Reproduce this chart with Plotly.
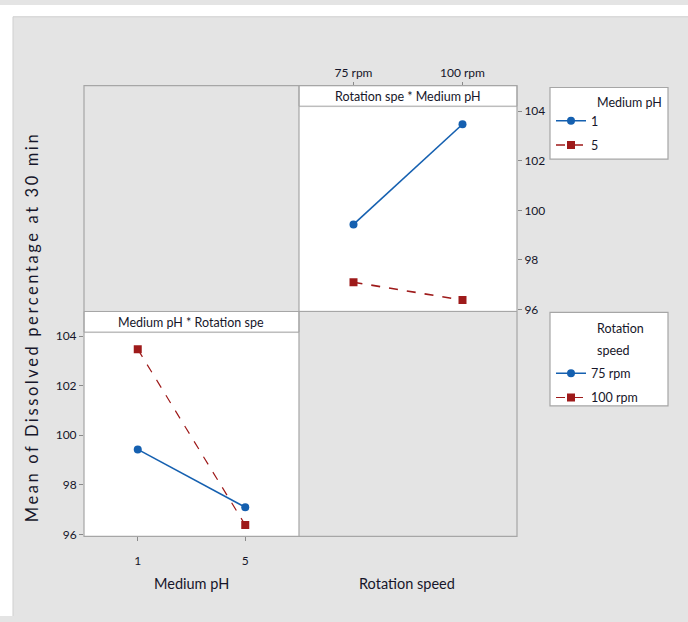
import plotly.graph_objects as go

W, H = 688, 622

# ---- data (cell means) ----
ph_levels = ["1", "5"]
rpm_levels = ["75 rpm", "100 rpm"]
# mean dissolved % at 30 min for each medium pH across rotation speeds
mean_ph1 = [99.43, 103.47]   # pH 1 at 75 rpm, 100 rpm
mean_ph5 = [97.10, 96.38]    # pH 5 at 75 rpm, 100 rpm
y_ticks = [96, 98, 100, 102, 104]

# derived series for the other panel (rotation speed lines across pH)
mean_75 = [mean_ph1[0], mean_ph5[0]]
mean_100 = [mean_ph1[1], mean_ph5[1]]

BLUE = "#1560b0"
RED = "#9e1a1a"
GRAY_BG = "#e4e4e4"
BORDER = "#a6a6a6"
FONT = "Lato, 'Open Sans', sans-serif"
TICKFONT = "Lato, sans-serif"
TXT = "#16162a"


def px(x):
    return x / W


def py(y):
    return 1 - y / H


fig = go.Figure()

# top-right panel: Rotation speed on x, lines by Medium pH
fig.add_trace(go.Scatter(x=rpm_levels, y=mean_ph1, name="1", mode="lines+markers",
                         line=dict(color=BLUE, width=1.6),
                         marker=dict(symbol="circle", size=8, color=BLUE),
                         xaxis="x", yaxis="y", legend="legend", legendgroup="a"))
fig.add_trace(go.Scatter(x=rpm_levels, y=mean_ph5, name="5", mode="lines+markers",
                         line=dict(color=RED, width=1.6, dash="dash"),
                         marker=dict(symbol="square", size=8, color=RED),
                         xaxis="x", yaxis="y", legend="legend", legendgroup="b"))
# bottom-left panel: Medium pH on x, lines by Rotation speed
fig.add_trace(go.Scatter(x=ph_levels, y=mean_75, name="75 rpm", mode="lines+markers",
                         line=dict(color=BLUE, width=1.6),
                         marker=dict(symbol="circle", size=8, color=BLUE),
                         xaxis="x2", yaxis="y2", legend="legend2", legendgroup="c"))
fig.add_trace(go.Scatter(x=ph_levels, y=mean_100, name="100 rpm", mode="lines+markers",
                         line=dict(color=RED, width=1.2, dash="dash"),
                         marker=dict(symbol="square", size=8, color=RED),
                         xaxis="x2", yaxis="y2", legend="legend2", legendgroup="d"))

tickfont = dict(family=TICKFONT, size=12, color=TXT)
axis_common = dict(showgrid=False, zeroline=False, showline=False, ticks="outside",
                   ticklen=4, tickcolor="#8a8a8a", tickfont=tickfont, fixedrange=True)

shapes = []
# white page margins (paper is gray)
shapes.append(dict(type="rect", xref="paper", yref="paper", x0=0, x1=1, y0=py(12), y1=1,
                   fillcolor="white", line=dict(width=0), layer="below"))
shapes.append(dict(type="rect", xref="paper", yref="paper", x0=0, x1=px(13), y0=0, y1=1,
                   fillcolor="white", line=dict(width=0), layer="below"))
shapes.append(dict(type="line", xref="paper", yref="paper", x0=px(13), x1=1, y0=py(12), y1=py(12),
                   line=dict(color="#cfcfcf", width=1)))
shapes.append(dict(type="line", xref="paper", yref="paper", x0=px(13), x1=px(13), y0=0, y1=py(12),
                   line=dict(color="#cfcfcf", width=1)))
# strips
for (x0, x1, y0, y1) in [(299, 517, 82, 103), (84, 299, 312, 333)]:
    shapes.append(dict(type="rect", xref="paper", yref="paper", x0=px(x0), x1=px(x1),
                       y0=py(y1), y1=py(y0), fillcolor="white",
                       line=dict(color=BORDER, width=1)))
# grid border and dividers
shapes.append(dict(type="rect", xref="paper", yref="paper", x0=px(84), x1=px(517),
                   y0=py(541), y1=py(82), line=dict(color=BORDER, width=1.2), layer="above"))
shapes.append(dict(type="line", xref="paper", yref="paper", x0=px(299), x1=px(299),
                   y0=py(541), y1=py(82), line=dict(color=BORDER, width=1.2), layer="above"))
shapes.append(dict(type="line", xref="paper", yref="paper", x0=px(84), x1=px(517),
                   y0=py(312), y1=py(312), line=dict(color=BORDER, width=1.2), layer="above"))
# legend boxes
for (x0, x1, y0, y1) in [(550, 668, 84, 157), (550, 668, 313, 408)]:
    shapes.append(dict(type="rect", xref="paper", yref="paper", x0=px(x0), x1=px(x1),
                       y0=py(y1), y1=py(y0), fillcolor="white",
                       line=dict(color=BORDER, width=1.2)))


def ann(text, x, y, size, xanchor="center", yanchor="middle", **kw):
    return dict(text=text, x=px(x), y=py(y), xref="paper", yref="paper",
                xanchor=xanchor, yanchor=yanchor, showarrow=False,
                font=dict(family=FONT, size=size, color=TXT), **kw)


annotations = [
    ann("Rotation spe * Medium pH", 408, 93, 12.5),
    ann("Medium pH * Rotation spe", 191, 323, 12.5),
    ann("Medium pH", 191, 589, 14.5),
    ann("Rotation speed", 407, 589, 14.5),
    ann('<span style="letter-spacing:2.6px">Mean of Dissolved percentage at 30 min</span>',
        32, 328, 16.5, textangle=-90),
    ann("Medium pH", 595, 99, 12.5, xanchor="left"),
    ann("Rotation", 595, 329, 12.5, xanchor="left"),
    ann("speed", 595, 352, 12.5, xanchor="left"),
]

fig.update_layout(
    width=W, height=H, margin=dict(l=0, r=0, t=0, b=0),
    paper_bgcolor=GRAY_BG, plot_bgcolor="white",
    font=dict(family=FONT, color=TXT),
    xaxis=dict(domain=[px(299), px(517)], anchor="free", position=py(82), side="top",
               type="category", categoryorder="array", categoryarray=rpm_levels,
               range=[-0.5, 1.5], **axis_common),
    yaxis=dict(domain=[py(311), py(104)], anchor="free", position=px(517), side="right",
               range=[95.96, 104.16], tickvals=y_ticks, **axis_common),
    xaxis2=dict(domain=[px(84), px(299)], anchor="y2", side="bottom",
                type="category", categoryorder="array", categoryarray=ph_levels,
                range=[-0.5, 1.5], ticklabelstandoff=9, **axis_common),
    yaxis2=dict(domain=[py(541), py(334)], anchor="x2", side="left",
                range=[95.92, 104.12], tickvals=y_ticks, **axis_common),
    legend=dict(x=px(551), y=py(103), xanchor="left", yanchor="top",
                bgcolor="rgba(0,0,0,0)", borderwidth=0, traceorder="grouped",
                tracegroupgap=5, font=dict(family=FONT, size=12.5, color=TXT)),
    legend2=dict(x=px(551), y=py(360), xanchor="left", yanchor="top",
                 bgcolor="rgba(0,0,0,0)", borderwidth=0, traceorder="grouped",
                 tracegroupgap=5, font=dict(family=FONT, size=12.5, color=TXT)),
    shapes=shapes, annotations=annotations, showlegend=True,
)

fig.write_html("out.html", config={"displayModeBar": False},
               post_script="document.body.style.margin='0';document.body.style.overflow='hidden';")
